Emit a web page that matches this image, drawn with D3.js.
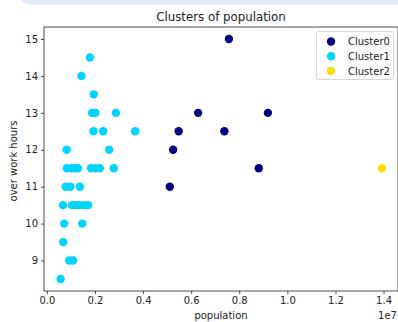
<!DOCTYPE html>
<html>
<head>
<meta charset="utf-8">
<script src="https://cdn.jsdelivr.net/npm/d3@7"></script>
<style>
  html, body { margin: 0; padding: 0; background: #fff; }
  svg { display: block; font-family: 'DejaVu Sans', sans-serif; }
</style>
</head>
<body>
<div id="chart"></div>
<script>
// population in millions, over work hours
const cluster0Pop = [7.57, 6.29, 9.19, 5.48, 7.38, 5.25, 8.81, 5.11];
const cluster0Hours = [15, 13, 13, 12.5, 12.5, 12, 11.5, 11];

const cluster1Pop = [
  1.79, 1.44, 1.95, 1.88, 2.02, 2.87, 1.94, 2.34, 3.67, 0.82, 2.59,
  0.83, 1.0, 1.16, 1.29, 1.83, 2.0, 2.2, 2.78,
  0.78, 0.98, 1.37,
  0.67, 1.05, 1.2, 1.35, 1.55, 1.72,
  0.72, 1.47, 0.68, 0.93, 1.09, 0.57
];
const cluster1Hours = [
  14.5, 14, 13.5, 13, 13, 13, 12.5, 12.5, 12.5, 12, 12,
  11.5, 11.5, 11.5, 11.5, 11.5, 11.5, 11.5, 11.5,
  11, 11, 11,
  10.5, 10.5, 10.5, 10.5, 10.5, 10.5,
  10, 10, 9.5, 9, 9, 8.5
];

const cluster2Pop = [13.93];
const cluster2Hours = [11.5];

const clusterNames = ['Cluster0', 'Cluster1', 'Cluster2'];
const clusterColors = ['#000080', '#00d4ff', '#ffdc00'];
const xTicks = [0, 2, 4, 6, 8, 10, 12, 14];
const yTicks = [9, 10, 11, 12, 13, 14, 15];

const series = [
  {pop: cluster0Pop, hours: cluster0Hours},
  {pop: cluster1Pop, hours: cluster1Hours},
  {pop: cluster2Pop, hours: cluster2Hours}
];

const W = 398, H = 322;
const svg = d3.select('#chart').append('svg')
  .attr('width', W)
  .attr('height', H);

// light banner at the top (cropped UI element)
svg.append('rect')
  .attr('x', 18).attr('y', -20)
  .attr('width', 420).attr('height', 24.5)
  .attr('rx', 14)
  .attr('fill', '#e2e9f6');

const plotLeft = 44, plotRight = 398, plotTop = 27, plotBottom = 291;

const x = d3.scaleLinear().domain([-0.12, 14.6]).range([plotLeft, plotRight]);
const y = d3.scaleLinear().domain([8.175, 15.325]).range([plotBottom, plotTop]);

// points
series.forEach((s, i) => {
  svg.append('g')
    .selectAll('circle')
    .data(s.pop.map((p, j) => [p, s.hours[j]]))
    .join('circle')
    .attr('cx', d => x(d[0]))
    .attr('cy', d => y(d[1]))
    .attr('r', 4.2)
    .attr('fill', clusterColors[i]);
});

// frame
svg.append('rect')
  .attr('x', plotLeft).attr('y', plotTop)
  .attr('width', plotRight - plotLeft).attr('height', plotBottom - plotTop)
  .attr('fill', 'none')
  .attr('stroke', '#222')
  .attr('stroke-width', 0.8);

// x axis
const xAxis = svg.append('g')
  .attr('transform', `translate(0,${plotBottom})`)
  .call(d3.axisBottom(x).tickValues(xTicks).tickSize(3).tickPadding(3)
    .tickFormat(d => (d / 10).toFixed(1)));
xAxis.select('.domain').remove();

// y axis
const yAxis = svg.append('g')
  .attr('transform', `translate(${plotLeft},0)`)
  .call(d3.axisLeft(y).tickValues(yTicks).tickSize(3).tickPadding(3));
yAxis.select('.domain').remove();

[xAxis, yAxis].forEach(g => {
  g.selectAll('text').attr('font-size', 10).attr('fill', '#222')
    .attr('font-family', "'DejaVu Sans', sans-serif");
  g.selectAll('line').attr('stroke', '#222').attr('stroke-width', 0.8);
});

// offset label
svg.append('text')
  .attr('x', 397).attr('y', 319)
  .attr('text-anchor', 'end')
  .attr('font-size', 10).attr('fill', '#222')
  .text('1e7');

// axis labels
svg.append('text')
  .attr('x', (plotLeft + plotRight) / 2).attr('y', 319)
  .attr('text-anchor', 'middle')
  .attr('font-size', 10).attr('fill', '#222')
  .text('population');

svg.append('text')
  .attr('transform', `translate(17,${(plotTop + plotBottom) / 2 + 2}) rotate(-90)`)
  .attr('text-anchor', 'middle')
  .attr('font-size', 10).attr('fill', '#222')
  .text('over work hours');

// title
svg.append('text')
  .attr('x', (plotLeft + plotRight) / 2).attr('y', 21)
  .attr('text-anchor', 'middle')
  .attr('font-size', 11.8).attr('fill', '#222')
  .text('Clusters of population');

// legend
const legend = svg.append('g');
legend.append('rect')
  .attr('x', 316.5).attr('y', 31.5)
  .attr('width', 77).attr('height', 48)
  .attr('rx', 2)
  .attr('fill', '#fff').attr('fill-opacity', 0.8)
  .attr('stroke', '#ccc').attr('stroke-width', 0.8);

clusterNames.forEach((name, i) => {
  const ly = 41.5 + i * 14.7;
  legend.append('circle')
    .attr('cx', 331).attr('cy', ly)
    .attr('r', 4.2)
    .attr('fill', clusterColors[i]);
  legend.append('text')
    .attr('x', 348).attr('y', ly + 3.6)
    .attr('font-size', 10).attr('fill', '#222')
    .text(name);
});
</script>
</body>
</html>
